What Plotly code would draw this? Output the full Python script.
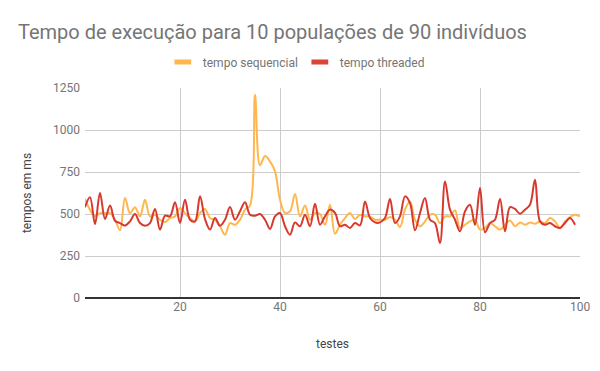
import plotly.graph_objects as go

testes = list(range(1, 101))

tempo_sequencial = [
    590, 525, 486, 505, 505, 505, 466, 403, 595, 505,
    540, 486, 585, 486, 496, 466, 452, 476, 486, 535,
    505, 476, 456, 505, 530, 476, 466, 427, 377, 446,
    436, 466, 526, 550, 1210, 790, 845, 813, 754, 585,
    506, 516, 619, 486, 550, 466, 506, 500, 436, 555,
    383, 436, 476, 506, 470, 496, 486, 486, 466, 466,
    466, 482, 466, 423, 526, 575, 466, 427, 456, 496,
    496, 446, 486, 486, 522, 417, 436, 456, 466, 407,
    417, 446, 427, 407, 436, 462, 427, 450, 436, 450,
    442, 456, 446, 476, 456, 417, 456, 482, 496, 486,
]

tempo_threaded = [
    540, 600, 440, 625, 470, 550, 460, 446, 432, 456,
    500, 446, 430, 446, 530, 407, 490, 486, 570, 446,
    585, 466, 456, 605, 470, 407, 476, 430, 466, 541,
    466, 516, 570, 496, 490, 500, 466, 411, 486, 506,
    427, 377, 450, 427, 496, 427, 561, 436, 486, 526,
    506, 427, 436, 417, 446, 432, 575, 476, 450, 450,
    476, 589, 446, 486, 605, 565, 403, 506, 595, 466,
    446, 327, 694, 526, 466, 397, 516, 555, 436, 655,
    391, 446, 466, 589, 397, 541, 530, 502, 526, 555,
    704, 456, 436, 446, 427, 417, 446, 476, 436, None,
]

y_ticks = [0, 250, 500, 750, 1000, 1250]
x_ticks = [20, 40, 60, 80, 100]

series_names = ["tempo sequencial", "tempo threaded"]
series_colors = ["#ffb74d", "#d8392f"]
legend_colors = ["#ffb74d", "#db4437"]

fig = go.Figure()
for name, vals, col in zip(series_names, [tempo_sequencial, tempo_threaded], series_colors):
    fig.add_trace(go.Scatter(
        x=testes, y=vals, name=name, mode="lines", showlegend=False,
        line=dict(color=col, width=2, shape="spline", smoothing=1.0),
    ))
# legend entries (short bar swatches like the original)
for name, col in zip(series_names, legend_colors):
    fig.add_trace(go.Scatter(
        x=[None], y=[None], name=name, mode="markers",
        marker=dict(symbol="line-ew", size=12, color=col,
                    line=dict(width=5, color=col)),
    ))

fig.update_layout(
    width=600, height=371,
    paper_bgcolor="white", plot_bgcolor="white",
    font=dict(family="Roboto", color="#757575", size=12),
    margin=dict(l=85, r=20, t=88, b=73, autoexpand=False),
    title=dict(text="Tempo de execução para 10 populações de 90 indivíduos",
               x=0.03, xanchor="left", y=0.915, yanchor="middle",
               font=dict(size=20, color="#757575", family="Roboto")),
    legend=dict(orientation="h", x=0.434, xanchor="center",
                y=1.124, yanchor="middle",
                font=dict(size=12, color="#757575"), entrywidth=92),
    showlegend=True,
)
fig.update_xaxes(
    range=[1, 100], tickvals=x_ticks, showgrid=True, gridcolor="#cccccc",
    zeroline=False, showline=False, ticks="",
    title=dict(text="testes", font=dict(size=12, color="#444444"), standoff=26),
    tickfont=dict(size=12, color="#757575"),
)
fig.update_yaxes(
    range=[0, 1250], tickvals=y_ticks, showgrid=True, gridcolor="#cccccc",
    zeroline=True, zerolinecolor="#333333", zerolinewidth=1.5,
    showline=False, ticks="", ticklabelstandoff=4,
    title=dict(text="tempos em ms", font=dict(size=12, color="#444444"), standoff=18),
    tickfont=dict(size=12, color="#757575"),
)

fig.write_html("out.html", config={"displayModeBar": False},
               post_script="document.body.style.margin='0';")
